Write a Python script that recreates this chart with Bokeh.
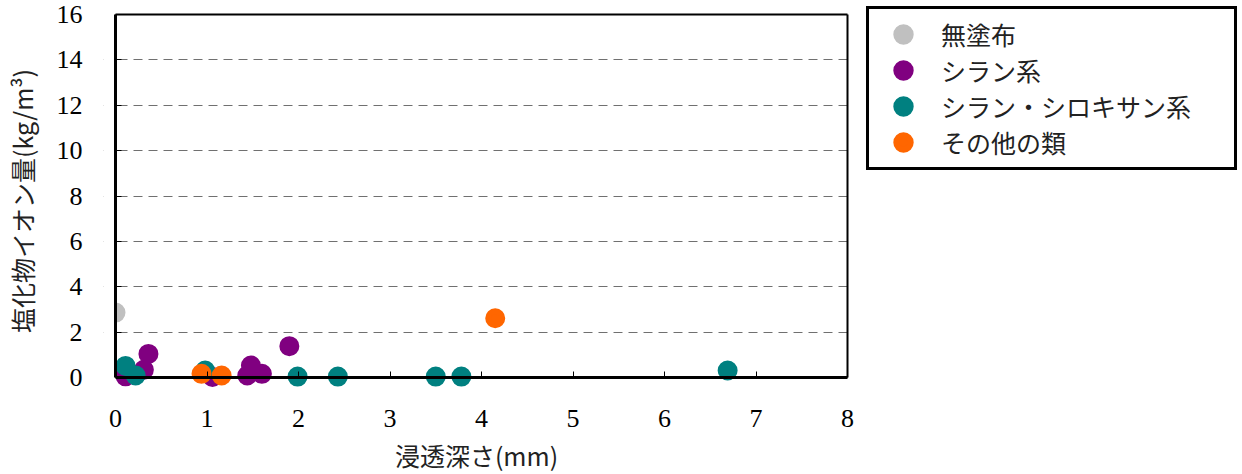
from bokeh.plotting import figure
from bokeh.models import Legend, LegendItem, FixedTicker, Range1d, LinearAxis, BoxAnnotation
from bokeh.embed import file_html
from bokeh.resources import INLINE

# data
series_names = ["無塗布", "シラン系", "シラン・シロキサン系", "その他の類"]
colors = ["#C0C0C0", "#800080", "#008080", "#FF6600"]

x_none = [0.0]
y_none = [2.86]

x_silane = [0.11, 0.31, 0.36, 1.06, 1.44, 1.48, 1.60, 1.90]
y_silane = [0.05, 0.34, 1.04, 0.02, 0.09, 0.53, 0.16, 1.38]

x_siloxane = [0.11, 0.22, 0.98, 1.99, 2.43, 3.50, 3.78, 6.69]
y_siloxane = [0.51, 0.09, 0.31, 0.04, 0.04, 0.04, 0.04, 0.31]

x_other = [0.94, 1.16, 4.15]
y_other = [0.16, 0.09, 2.61]

x_ticks = [0, 1, 2, 3, 4, 5, 6, 7, 8]
y_ticks = [0, 2, 4, 6, 8, 10, 12, 14, 16]
x_min, x_max = 0, 8
y_min, y_max = 0, 16

SERIF = "'Liberation Serif', 'Noto Sans CJK JP'"
CJK = "'Noto Sans CJK JP', 'Liberation Serif'"

# plot box size in px and small paddings so markers on the axes are not clipped
BOX_W, BOX_H = 732, 363
PAD_L, PAD_B, PAD_R, PAD_T = 12, 12, 2, 2
FW, FH = BOX_W + PAD_L + PAD_R, BOX_H + PAD_B + PAD_T
ux = (x_max - x_min) / BOX_W
uy = (y_max - y_min) / BOX_H
TOP = 12

p = figure(frame_width=FW, frame_height=FH,
           min_border_left=103, min_border_right=392,
           min_border_top=TOP, min_border_bottom=80,
           x_range=Range1d(x_min - PAD_L * ux, x_max + PAD_R * ux),
           y_range=Range1d(y_min - PAD_B * uy, y_max + PAD_T * uy),
           output_backend="svg", toolbar_location=None)

p.outline_line_color = None

# edge axes: only tick labels and axis titles
for ax, ticks in ((p.xaxis[0], x_ticks), (p.yaxis[0], y_ticks)):
    ax.ticker = FixedTicker(ticks=ticks)
    ax.axis_line_color = None
    ax.major_tick_line_color = None
    ax.minor_tick_line_color = None
    ax.major_tick_in = 0
    ax.major_tick_out = 0
    ax.major_label_text_font = SERIF
    ax.major_label_text_font_size = "26px"
    ax.major_label_text_color = "black"
    ax.axis_label_text_font = CJK
    ax.axis_label_text_font_size = "25px"
    ax.axis_label_text_font_style = "normal"
    ax.axis_label_text_color = "#222222"

p.xaxis.axis_label = "浸透深さ(mm)"
p.yaxis.axis_label = "塩化物イオン量(kg/m³)"
p.xaxis.major_label_standoff = 20
p.yaxis.major_label_standoff = 21
p.xaxis.axis_label_standoff = 7
p.yaxis.axis_label_standoff = 14

# axis lines with inward ticks at the data origin, plus top/right box lines
def rule(ticks, loc, bnd, width):
    return LinearAxis(ticker=FixedTicker(ticks=ticks), fixed_location=loc, bounds=bnd,
                      axis_line_width=width, axis_line_color="black",
                      major_tick_in=6, major_tick_out=0, major_tick_line_color="black",
                      minor_tick_line_color=None, major_label_text_color=None,
                      major_label_standoff=0)

p.add_layout(rule(x_ticks, y_min, (x_min, x_max), 3), "below")
p.add_layout(rule([], y_max, (x_min, x_max), 2), "below")
p.add_layout(rule(y_ticks, x_min, (y_min, y_max), 3), "left")
p.add_layout(rule([], x_max, (y_min, y_max), 2), "left")

p.xgrid.grid_line_color = None
p.ygrid.ticker = FixedTicker(ticks=y_ticks[1:-1])
p.ygrid.grid_line_color = "#707070"
p.ygrid.grid_line_dash = "9 6"
p.ygrid.grid_line_width = 1

# hide grid in the padding strip left of the y axis
p.add_layout(BoxAnnotation(right=x_min, fill_color="white", fill_alpha=1,
                           line_alpha=0, level="glyph"))

renderers = []
for xs, ys, c in ((x_none, y_none, colors[0]), (x_silane, y_silane, colors[1]),
                  (x_siloxane, y_siloxane, colors[2]), (x_other, y_other, colors[3])):
    r = p.scatter(xs, ys, size=14, fill_color=c, line_color=c, line_width=6)
    renderers.append(r)

LEG_PAD = 7
leg_bottom = 170
frame_bottom = TOP + FH
legend = Legend(items=[LegendItem(label=n, renderers=[r]) for n, r in zip(series_names, renderers)],
                location=(19 - PAD_R, frame_bottom - leg_bottom))
legend.border_line_color = "black"
legend.border_line_alpha = 1
legend.border_line_width = 3
legend.padding = LEG_PAD
legend.margin = 0
legend.spacing = 0
legend.glyph_height = 36
legend.glyph_width = 54
legend.label_height = 30
legend.label_width = 286
legend.label_standoff = 11
legend.label_text_font = CJK
legend.label_text_font_size = "25px"
legend.label_text_color = "#222222"
legend.background_fill_alpha = 1
p.add_layout(legend, "right")

open("out.html", "w").write(file_html(p, INLINE))
